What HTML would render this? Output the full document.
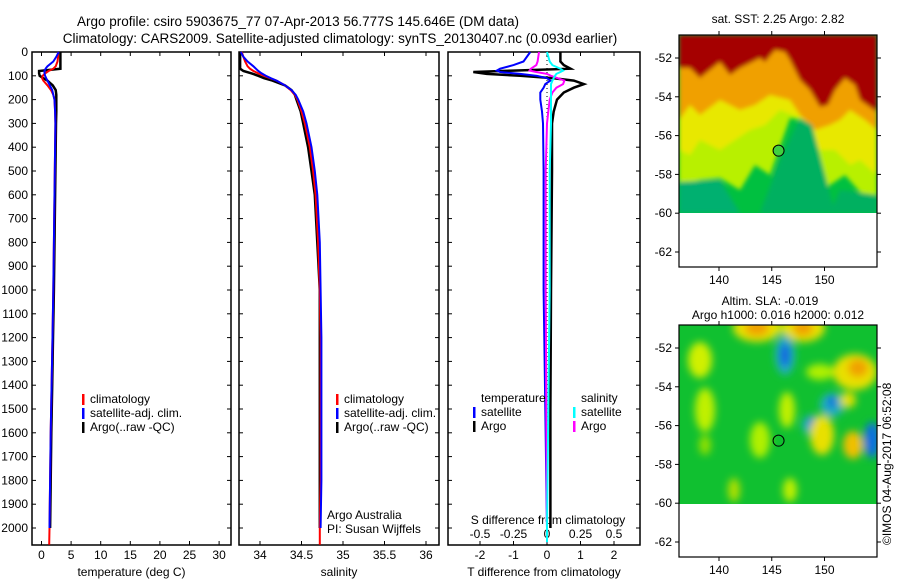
<!DOCTYPE html>
<html><head><meta charset="utf-8">
<style>
body{margin:0;background:#fff;}
svg{display:block;font-family:"Liberation Sans",sans-serif;}
text{fill:#000;}
</style></head>
<body>
<svg id="chart" width="900" height="580" viewBox="0 0 900 580" xmlns="http://www.w3.org/2000/svg">
<defs>
<filter id="blur" x="-50%" y="-50%" width="200%" height="200%"><feGaussianBlur stdDeviation="4"/></filter>
<filter id="blur2" x="-20%" y="-20%" width="140%" height="140%"><feGaussianBlur stdDeviation="2"/></filter>
<clipPath id="clipTop"><rect x="679" y="35" width="198" height="178"/></clipPath>
<clipPath id="clipBot"><rect x="679" y="325" width="198" height="179"/></clipPath>
</defs>
<text x="298" y="26" font-size="13.5" text-anchor="middle">Argo profile: csiro 5903675_77 07-Apr-2013 56.777S 145.646E (DM data)</text>
<text x="340" y="43" font-size="13.5" text-anchor="middle">Climatology: CARS2009. Satellite-adjusted climatology: synTS_20130407.nc (0.093d earlier)</text>
<g id="panels"></g>
<g id="maps"></g>
</svg>
<script>
// ---- data ----
const depthTicks = [0,100,200,300,400,500,600,700,800,900,1000,1100,1200,1300,1400,1500,1600,1700,1800,1900,2000];
const tempTicks = [0,5,10,15,20,25,30];
const salTicks = [34,34.5,35,35.5,36];
const salTickLabels = ["34","34.5","35","35.5","36"];
const tDiffTicks = [-2,-1,0,1,2];
const sDiffTicks = [-0.5,-0.25,0,0.25,0.5];
const sDiffTickLabels = ["-0.5","-0.25","0","0.25","0.5"];

const profDepth = [0,20,40,60,70,80,90,100,110,120,140,160,180,200,250,300,400,500,600,800,1000,1200,1400,1600,1800,2000,2070];
const tempClim = [2.8,2.8,2.7,2.4,2.0,1.2,0.6,0.2,0.1,0.3,1.0,1.6,2.0,2.2,2.3,2.35,2.3,2.25,2.2,2.1,2.0,1.85,1.7,1.55,1.45,1.35,1.3];
const tempSat  = [2.9,2.5,2.0,1.0,0.7,0.5,0.5,0.6,0.8,1.0,1.4,1.8,2.0,2.2,2.3,2.35,2.3,2.25,2.2,2.1,2.0,1.85,1.7,1.55,1.45,1.35,1.3];
const tempArgo = [3.2,3.2,3.2,3.2,3.2,-0.4,-0.4,-0.3,0.3,1.0,1.9,2.4,2.5,2.5,2.5,2.45,2.4,2.35,2.3,2.2,2.1,1.95,1.8,1.65,1.55,1.45,1.45];
const salClim = [33.78,33.8,33.82,33.85,33.88,33.92,33.98,34.05,34.12,34.2,34.3,34.37,34.42,34.45,34.5,34.54,34.6,34.64,34.67,34.7,34.72,34.73,34.73,34.73,34.73,34.72,34.72];
const salSat  = [33.77,33.8,33.85,33.92,33.95,33.98,34.02,34.07,34.13,34.2,34.3,34.38,34.43,34.46,34.52,34.56,34.62,34.66,34.69,34.72,34.73,34.74,34.74,34.74,34.74,34.73,34.73];
const salArgo = [33.76,33.76,33.76,33.76,33.76,33.8,33.9,33.98,34.05,34.15,34.3,34.38,34.42,34.44,34.49,34.52,34.58,34.62,34.66,34.69,34.72,34.72,34.72,34.72,34.72,34.72,34.72];

const diffDepth = [0,40,55,70,78,84,92,100,110,120,135,150,170,200,250,300,500,1000,1500,2000,2060];
const tArgoDiff = [0.4,0.4,0.5,0.7,-1.0,-2.2,-1.8,-0.8,0.2,0.8,1.1,0.8,0.5,0.3,0.2,0.15,0.15,0.12,0.1,0.1,0.1];
const tSatDiff  = [-0.5,-0.7,-1.0,-1.4,-1.5,-1.4,-0.8,-0.3,0.0,0.1,-0.05,-0.1,-0.2,-0.2,-0.15,-0.12,-0.1,-0.1,-0.05,0,0];
const sArgoDiff = [-0.06,-0.07,-0.08,-0.12,-0.13,-0.08,0.0,0.03,0.08,0.13,0.12,0.07,0.04,0.02,0.01,0.0,-0.01,-0.01,-0.005,0,0];
const sSatDiff  = [0,0.02,0.04,0.1,0.12,0.1,0.07,0.06,0.05,0.04,0.03,0.03,0.03,0.03,0.03,0.03,0.02,0.02,0.01,0,0];

const lonTicks = [140,145,150];
const latTicks = [-52,-54,-56,-58,-60,-62];
const argoLon = 145.646, argoLat = -56.777;

// ---- helpers ----
const NS = "http://www.w3.org/2000/svg";
function mk(tag, attrs, parent){const e=document.createElementNS(NS,tag);for(const k in attrs)e.setAttribute(k,attrs[k]);parent.appendChild(e);return e;}
const TOP=52, BOT=545;
const yDepth = d => TOP + d*0.238;
const panels = document.getElementById('panels');

function panel(name,x0,x1,xs,ticks,labels,xlabel){
  const g=mk('g',{},panels);
  
  
  const r=mk('rect',{x:x0,y:TOP,width:x1-x0,height:BOT-TOP,fill:'none',stroke:'#000','stroke-width':1.5},g);
  
  
  depthTicks.forEach(d=>{const y=yDepth(d);mk('line',{x1:x0,x2:x0+4,y1:y,y2:y,stroke:'#000'},g);mk('line',{x1:x1-4,x2:x1,y1:y,y2:y,stroke:'#000'},g);});
  if(ticks){ticks.forEach((t,i)=>{const x=xs(t);mk('line',{x1:x,x2:x,y1:BOT,y2:BOT-4,stroke:'#000'},g);mk('line',{x1:x,x2:x,y1:TOP,y2:TOP+4,stroke:'#000'},g);
    const tx=mk('text',{x:x,y:BOT+14,'font-size':12,'text-anchor':'middle'},g);tx.textContent=labels[i];
    
    });}
  const xl=mk('text',{x:(x0+x1)/2,y:576,'font-size':12,'text-anchor':'middle'},g);xl.textContent=xlabel;
  
  
  return g;
}
function line(g,name,xs,vals,depths,color,w){
  const pts=vals.map((v,i)=>xs(v).toFixed(1)+','+yDepth(depths[i]).toFixed(1)).join(' ');
  const p=mk('polyline',{points:pts,fill:'none',stroke:color,'stroke-width':w||2},g);
  
  
}
function legend(g,x,y,color,label,name){
  mk('rect',{x:x,y:y-9,width:2.5,height:11,fill:color},g);
  const t=mk('text',{x:x+8,y:y,'font-size':12},g);t.textContent=label;
  
  
}

depthTicks.forEach(d=>{const t=mk('text',{x:28,y:yDepth(d)+4,'font-size':12,'text-anchor':'end'},panels);t.textContent=d;
  
  });

const xT = v => 41.5 + v*5.92;
const g1 = panel('temperature-panel',32,231,xT,tempTicks,tempTicks.map(String),'temperature (deg C)');
line(g1,'temp-argo-line',xT,tempArgo,profDepth.slice(0,26),'#000',2.5);
line(g1,'temp-clim-line',xT,tempClim,profDepth,'#f00',2);
line(g1,'temp-sat-line',xT,tempSat,profDepth.slice(0,26),'#00f',2);
legend(g1,82,403,'#f00','climatology','legend-climatology');
legend(g1,82,417,'#00f','satellite-adj. clim.','legend-satellite');
legend(g1,82,431,'#000','Argo(..raw -QC)','legend-argo');

const xS = v => 260 + (v-34)*83;
const g2 = panel('salinity-panel',239,439,xS,salTicks,salTickLabels,'salinity');
line(g2,'sal-argo-line',xS,salArgo,profDepth.slice(0,26),'#000',2.5);
line(g2,'sal-clim-line',xS,salClim,profDepth,'#f00',2);
line(g2,'sal-sat-line',xS,salSat,profDepth.slice(0,26),'#00f',2);
legend(g2,336,403,'#f00','climatology','legend-climatology-2');
legend(g2,336,417,'#00f','satellite-adj. clim.','legend-satellite-2');
legend(g2,336,431,'#000','Argo(..raw -QC)','legend-argo-2');
[['Argo Australia',519],['PI: Susan Wijffels',533]].forEach(([s,y])=>{const t=mk('text',{x:327,y:y,'font-size':12},g2);t.textContent=s;
  
  });

const xTd = v => 547 + v*33.5;
const xSd = v => 547 + v*134;
const g3 = panel('difference-panel',448,640,xTd,tDiffTicks,tDiffTicks.map(String),'T difference from climatology');
mk('line',{x1:547,x2:547,y1:TOP,y2:BOT,stroke:'#000','stroke-dasharray':'1,3'},g3);
sDiffTicks.forEach((t,i)=>{const tx=mk('text',{x:xSd(t),y:538,'font-size':12,'text-anchor':'middle'},g3);tx.textContent=sDiffTickLabels[i];
  
  });
const st=mk('text',{x:548,y:524,'font-size':12,'text-anchor':'middle'},g3);st.textContent='S difference from climatology';


line(g3,'t-argo-diff-line',xTd,tArgoDiff,diffDepth.slice(0,20),'#000',2.5);
line(g3,'t-sat-diff-line',xTd,tSatDiff,diffDepth.slice(0,20),'#00f',2);
line(g3,'s-argo-diff-line',xSd,sArgoDiff,diffDepth,'#f0f',2);
line(g3,'s-sat-diff-line',xSd,sSatDiff,diffDepth,'#0ff',2);
const lt=mk('text',{x:481,y:402,'font-size':12},g3);lt.textContent='temperature';


const ls=mk('text',{x:581,y:402,'font-size':12},g3);ls.textContent='salinity';


legend(g3,473,416,'#00f','satellite','legend-t-satellite');
legend(g3,473,430,'#000','Argo','legend-t-argo');
legend(g3,573,416,'#0ff','satellite','legend-s-satellite');
legend(g3,573,430,'#f0f','Argo','legend-s-argo');

// ---- maps ----
const maps=document.getElementById('maps');
const xLon = (v) => 719 + (v-140)*10.55;
function mapFrame(name,y0,title1,title2){
  const g=mk('g',{},maps);
  
  
  const yLat = v => y0 + 23 + (-52 - v)*19.4;
  if(title2){const t=mk('text',{x:770,y:y0-20,'font-size':12,'text-anchor':'middle'},g);t.textContent=title1;
    
    
    const t2=mk('text',{x:778,y:y0-6,'font-size':12,'text-anchor':'middle'},g);t2.textContent=title2;
    
    }
  else{const t=mk('text',{x:778,y:y0-12,'font-size':12,'text-anchor':'middle'},g);t.textContent=title1;
    
    }
  return {g,yLat};
}
(function(){
  const y0=35;const {g,yLat}=mapFrame('sst-map',y0,'sat. SST: 2.25 Argo: 2.82');
  const c=mk('g',{'clip-path':'url(#clipTop)'},g);
  mk('rect',{x:679,y:35,width:198,height:178,fill:'#00c040'},c);
  const f=mk('g',{filter:'url(#blur2)'},c);
  mk('polygon',{points:'679,35 877,35 877,200 860,192 845,175 830,185 820,190 800,120 790,118 770,175 755,165 740,190 720,178 700,180 679,185',fill:'#b8f000'},f);
  mk('polygon',{points:'679,35 877,35 877,175 860,160 850,165 835,150 820,150 800,118 780,110 765,125 750,130 735,140 720,150 700,140 690,155 679,150',fill:'#e8e800'},f);
  mk('polygon',{points:'679,35 877,35 877,130 865,120 850,110 840,120 830,125 815,130 800,115 790,100 770,95 755,105 740,110 720,100 700,115 690,105 679,120',fill:'#f0a000'},f);
  mk('polygon',{points:'679,35 877,35 877,112 860,100 855,85 845,78 835,90 828,105 820,107 810,90 800,80 790,60 785,52 775,50 765,62 760,58 740,68 730,75 720,62 710,70 700,78 690,68 679,68',fill:'#a50000'},f);
  mk('polygon',{points:'800,118 812,125 835,213 760,213 780,160',fill:'#00b060'},f);
  mk('polygon',{points:'679,182 720,180 740,213 679,213',fill:'#00b070'},f);
  mk('polygon',{points:'840,190 877,195 877,213 830,213',fill:'#00b060'},f);
  mk('rect',{x:679,y:213,width:198,height:54,fill:'#fff'},g);
  mk('circle',{cx:xLon(argoLon),cy:yLat(argoLat),r:5.5,fill:'#40d040',stroke:'#000','stroke-width':1},g);
  axes(g,y0,yLat);
})();
(function(){
  const y0=325;const {g,yLat}=mapFrame('sla-map',y0,'Altim. SLA: -0.019','Argo h1000: 0.016 h2000: 0.012');
  const c=mk('g',{'clip-path':'url(#clipBot)'},g);
  mk('rect',{x:679,y:325,width:198,height:179,fill:'#10c030'},c);
  const f=mk('g',{filter:'url(#blur)'},c);
  const blobs=[[757,328,24,14,'#e8e000'],[757,328,12,8,'#f0a000'],[803,328,22,14,'#e8e000'],[803,328,10,8,'#f0a000'],
    [785,355,10,20,'#20b0c0'],[785,355,5,12,'#1060e0'],[700,360,12,18,'#d0f000'],[705,410,10,22,'#c0f000'],
    [855,372,22,18,'#e8e000'],[858,368,10,9,'#f0a000'],[832,405,12,12,'#20b0c0'],[832,402,4,6,'#1060e0'],[812,425,10,10,'#20b0c0'],[812,423,4,5,'#1060e0'],
    [853,445,10,14,'#f0c000'],[872,440,8,18,'#1070e0'],
    [787,410,8,18,'#c0f000'],[822,435,12,20,'#e8e000'],[760,440,10,18,'#b0f000'],[734,490,6,12,'#b0e000'],[790,490,7,12,'#c0f000'],[848,400,8,8,'#e0e000'],[820,372,14,8,'#b0f000'],[705,445,6,10,'#90e000']];
  blobs.forEach(b=>mk('ellipse',{cx:b[0],cy:b[1],rx:b[2],ry:b[3],fill:b[4]},f));
  mk('rect',{x:679,y:504,width:198,height:53,fill:'#fff'},g);
  mk('circle',{cx:xLon(argoLon),cy:yLat(argoLat),r:5.5,fill:'none',stroke:'#000','stroke-width':1},g);
  axes(g,y0,yLat);
})();
function axes(g,y0,yLat){
  const y1=y0+232;
  const r=mk('rect',{x:679,y:y0,width:198,height:232,fill:'none',stroke:'#000','stroke-width':1.2},g);
  
  
  lonTicks.forEach(l=>{const x=xLon(l);mk('line',{x1:x,x2:x,y1:y0,y2:y0-4,stroke:'#000'},g);mk('line',{x1:x,x2:x,y1:y1,y2:y1+4,stroke:'#000'},g);
    const t=mk('text',{x:x,y:y1+17,'font-size':12,'text-anchor':'middle'},g);t.textContent=l;
    
    });
  latTicks.forEach(l=>{const y=yLat(l);mk('line',{x1:679,x2:675,y1:y,y2:y,stroke:'#000'},g);mk('line',{x1:877,x2:881,y1:y,y2:y,stroke:'#000'},g);
    const t=mk('text',{x:672,y:y+4,'font-size':12,'text-anchor':'end'},g);t.textContent=l;
    
    });
}
const cr=mk('text',{x:0,y:0,'font-size':12,transform:'translate(891,545) rotate(-90)'},maps);
cr.textContent='©IMOS 04-Aug-2017 06:52:08';


</script>
</body></html>
